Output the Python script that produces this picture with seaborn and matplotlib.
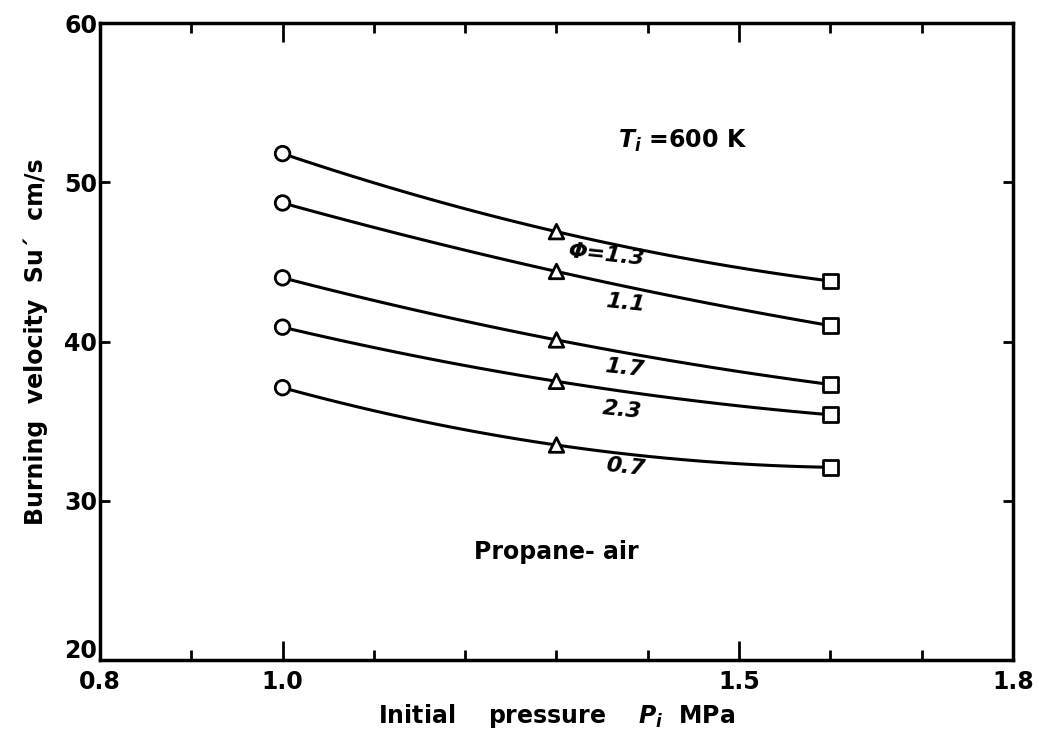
import numpy as np
import pandas as pd
import matplotlib
matplotlib.use('Agg')
import matplotlib.pyplot as plt
import matplotlib.transforms as mtransforms
import seaborn as sns

# Values
pressure = [1.0, 1.3, 1.6]
phi_labels = ['Φ=1.3', '1.1', '1.7', '2.3', '0.7']
su_phi13 = [51.8, 46.9, 43.8]
su_phi11 = [48.7, 44.4, 41.0]
su_phi17 = [44.0, 40.1, 37.3]
su_phi23 = [40.9, 37.5, 35.4]
su_phi07 = [37.1, 33.5, 32.1]
label_x = [1.354, 1.375, 1.374, 1.372, 1.375]
label_y = [45.4, 42.4, 38.3, 35.7, 32.1]

series = [su_phi13, su_phi11, su_phi17, su_phi23, su_phi07]

rows = []
for name, vals in zip(phi_labels, series):
    for p, v in zip(pressure, vals):
        rows.append({'phi': name, 'P': p, 'Su': v})
df = pd.DataFrame(rows)

sns.set_style('ticks')
plt.rcParams['font.family'] = ['DejaVu Sans']
plt.rcParams['font.weight'] = 'bold'
for key in ['text.color', 'axes.labelcolor', 'xtick.color', 'ytick.color',
            'axes.edgecolor']:
    plt.rcParams[key] = 'black'

fig = plt.figure(figsize=(10.39, 7.38), dpi=100)
ax = fig.add_axes([0.0962, 0.1057, 0.8788, 0.8631])

# smooth curve through each set of points
for name, vals in zip(phi_labels, series):
    coef = np.polyfit(pressure, vals, 2)
    xs = np.linspace(pressure[0], pressure[-1], 100)
    sns.lineplot(x=xs, y=np.polyval(coef, xs), ax=ax, color='black', lw=2.2,
                 legend=False, zorder=2)

sns.scatterplot(data=df, x='P', y='Su', style='P',
                markers={1.0: 'o', 1.3: '^', 1.6: 's'},
                s=110, facecolor='white', edgecolor='black', linewidth=2.0,
                legend=False, ax=ax, zorder=3)

for txt, lx, ly in zip(phi_labels, label_x, label_y):
    ax.text(lx, ly, txt, ha='center', va='center', fontsize=16,
            style='italic', fontweight='bold', rotation=-6, color='black')

ax.text(1.367, 52.6, r'$\mathit{T_i}$ =600 K', ha='left', va='center',
        fontsize=17, fontweight='bold', color='black')
ax.text(1.30, 26.8, 'Propane- air', ha='center', va='center',
        fontsize=17, fontweight='bold', color='black')

ax.set_xlim(0.8, 1.8)
ax.set_ylim(20, 60)
ax.set_xticks([0.8, 1.0, 1.5, 1.8])
ax.set_xticklabels(['0.8', '1.0', '1.5', '1.8'])
ax.set_xticks([0.9, 1.1, 1.2, 1.3, 1.4, 1.6, 1.7], minor=True)
ax.set_yticks([20, 30, 40, 50, 60])
ax.tick_params(axis='x', which='major', direction='in', length=14, width=2,
               top=True, labelsize=17, pad=7)
ax.tick_params(axis='x', which='minor', direction='in', length=7, width=2,
               top=True)
ax.tick_params(axis='y', which='major', direction='in', length=7, width=2,
               right=True, labelsize=17, pad=2)
for lab in ax.get_xticklabels() + ax.get_yticklabels():
    lab.set_fontweight('bold')
# the "20" sits just above the corner in the reference
ylabs = ax.get_yticklabels()
ylabs[0].set_transform(ylabs[0].get_transform() +
                       mtransforms.ScaledTranslation(0, 8 / 72, fig.dpi_scale_trans))
for sp in ax.spines.values():
    sp.set_linewidth(2.5)
    sp.set_color('black')

ax.set_xlabel(r'Initial    pressure    $\mathit{P_i}$  MPa', fontsize=17,
              fontweight='bold', labelpad=6)
ax.set_ylabel("Burning  velocity  Su\u00b4  cm/s", fontsize=17,
              fontweight='bold', labelpad=12)

fig.savefig('out.png', dpi=100)
